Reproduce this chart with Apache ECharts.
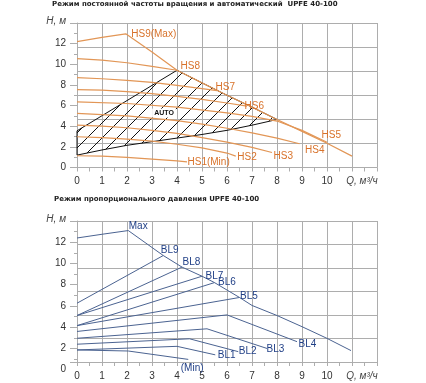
<!DOCTYPE html>
<html><head><meta charset="utf-8">
<script src="https://cdn.jsdelivr.net/npm/echarts@6/dist/echarts.min.js"></script>
<style>html,body{margin:0;padding:0;background:#fff}#c{width:426px;height:383px}</style>
</head><body><div id="c"></div>
<script>
// ---------- data ----------
const xLabelValues = [0,1,2,3,4,5,6,7,8,9,10];
const yLabelValues = [0,2,4,6,8,10,12];
const titleTop = 'Режим постоянной частоты вращения и автоматический  UPFE 40-100';
const titleBottom = 'Режим пропорционального давления UPFE 40-100';
const yName = 'H, м';
const xName = 'Q, м³/ч';

// top chart: constant speed curves [Q, H]
const hs9 = [[0,12.2],[1,12.6],[1.95,12.95],[3,11.2],[4,9.42],[5,8.2],[6,7.0],[7,5.85],[8,4.65],[9,3.5],[10,2.35],[11,1.1]];
const hs8 = [[0,10.55],[1,10.4],[2,10.15],[3,9.8],[4,9.42]];
const hs7 = [[0,8.7],[1,8.6],[2,8.45],[3,8.25],[4,7.95],[5,7.65],[5.6,7.45]];
const hs6 = [[0,7.55],[1,7.5],[2,7.35],[3,7.15],[4,6.9],[5,6.6],[6,6.25],[6.8,5.95]];
const hs5 = [[0,6.36],[2,6.2],[4,5.85],[6,5.3],[7,4.95],[8,4.5],[9,3.6],[10,2.45]];
const hs4 = [[0,5.24],[2,5.0],[4,4.55],[5,4.2],[6,3.8],[7,3.35],[8,2.85],[8.9,2.3]];
const hs3 = [[0,4.1],[1,4.0],[2,3.85],[3,3.6],[4,3.3],[5,2.9],[6,2.45],[7,1.95],[7.8,1.45]];
const hs2 = [[0,2.98],[1,2.9],[2,2.75],[3,2.55],[4,2.25],[5,1.9],[6,1.4],[6.35,1.1]];
const hs1 = [[0,1.14],[1,1.1],[2,0.98],[3,0.82],[4,0.64],[4.4,0.55]];
const autoUpper = [[0,3.55],[4,9.42]];
const autoLower = [[8,4.65],[7,4.1],[6,3.6],[5,3.2],[4,2.85],[3,2.5],[2,2.15],[1,1.7],[0,1.2]];
const autoText = 'AUTO';
const autoTextAt = [3.48,5.27];

// bottom chart: proportional pressure curves [Q, H]
const blMax = [[0,12.4],[1,12.75],[2.05,13.1],[3.45,10.75],[4.2,9.66],[5,8.8],[5.5,8.2],[6,7.5],[6.5,6.8],[7,6.05],[8,5.1],[9,4.05],[10,2.95],[10.96,1.8]];
const bl9 = [[0,6.26],[3.45,10.75]];
const bl8 = [[0,5.1],[4.2,9.66]];
const bl7 = [[0,5.1],[5.0,8.8]];
const bl6 = [[0,4.15],[5.5,8.2]];
const bl5 = [[0,4.15],[6.5,6.8]];
const bl4 = [[0,3.6],[6,5.16],[8.8,2.64]];
const bl3 = [[0,2.96],[5.2,3.85],[7.6,2.0]];
const bl2 = [[0,2.4],[4.5,2.91],[6.45,1.7]];
const bl1 = [[0,1.86],[4.0,2.2],[5.53,1.4]];
const blMin = [[0,1.86],[2.05,1.76],[4.45,0.97]];

// ---------- styling ----------
const FONT = "'Liberation Sans',Arial,sans-serif";
const TFONT = "'DejaVu Sans',Verdana,sans-serif";
const GRID_C = '#adadad';
const OR_LINE = '#e29656', OR_TXT = '#d8722a';
const BL_LINE = '#4b6391', BL_TXT = '#203f86';

function hatchPattern(){
  const c = document.createElement('canvas');
  const s = 15; c.width = s; c.height = s;
  const g = c.getContext('2d');
  g.strokeStyle = '#111'; g.lineWidth = 1;
  g.beginPath();
  g.moveTo(-1, s+1); g.lineTo(s+1, -1);
  g.moveTo(-1, 1); g.lineTo(1, -1);
  g.moveTo(s-1, s+1); g.lineTo(s+1, s-1);
  g.stroke();
  return c;
}
const hatch = hatchPattern();

// grid 0 (top): x 0,1 ; y 0,1,2      grid 1 (bottom data): x 2,3 ; y 3,4,5     grid 2 (bottom labels): x 4 ; y 6
function line(name, data, gi, color, width, txtColor, labelIdx, offset){
  const d = data.map((p,i)=> i===labelIdx ? {value:p, label:{show:true, formatter:name, position:'right', distance:3, offset:offset, color:txtColor, fontFamily:FONT, fontSize:10}} : p);
  return {type:'line', name, data:d, xAxisIndex:gi*2, yAxisIndex:gi*3, symbol:'circle', symbolSize:1, showSymbol:true, showAllSymbol:true,
          itemStyle:{color:'rgba(0,0,0,0)'}, lineStyle:{color, width}, label:{show:false}, z:3, silent:true, animation:false};
}

function xAxesFor(gi){
  return [
    {gridIndex:gi, type:'value', position:'bottom', min:0, max:12, interval:1, axisLine:{show:false}, axisTick:{show:false}, axisLabel:{show:false},
     splitLine:{show:true, lineStyle:{color:GRID_C, width:1}}},
    {gridIndex:gi, type:'value', position:'bottom', min:0, max:12,
     axisLine:{show:true, onZero:false, lineStyle:{color:GRID_C}},
     axisTick:{show:true, customValues:[0,0.5,1,1.5,2,2.5,3,3.5,4,4.5,5,5.5,6,6.5,7,7.5,8,8.5,9,9.5,10,10.5,11,11.5,12], length:4, lineStyle:{color:GRID_C}},
     axisLabel:{show:true, customValues:xLabelValues.concat([11.4]), margin:9, color:'#333', fontFamily:FONT, fontSize:10,
       formatter:v=> v>10 ? '{i|'+xName+'}' : String(v), rich:{i:{fontStyle:'italic', color:'#444', fontFamily:FONT, fontSize:10}}},
     splitLine:{show:false}}
  ];
}
function yLabelAxis(gi, minV, showLine, tickVals){
  return {gridIndex:gi, type:'value', position:'left', min:minV, max:14,
     axisLine:{show:showLine, onZero:false, lineStyle:{color:GRID_C}},
     axisTick:{show:true, customValues:tickVals, length:7, lineStyle:{color:GRID_C}},
     axisLabel:{show:true, customValues:yLabelValues.concat([14]), margin:11, color:'#333', fontFamily:FONT, fontSize:10,
       formatter:v=> v===14 ? '{i|'+yName+'}' : String(v), rich:{i:{fontStyle:'italic', color:'#444', fontFamily:FONT, fontSize:10, padding:[0,0,4,0]}}},
     splitLine:{show:false}};
}
function ySplitAxis(gi){
  return {gridIndex:gi, type:'value', position:'left', min:0, max:6, interval:1, axisLine:{show:false}, axisTick:{show:false}, axisLabel:{show:false},
     splitLine:{show:true, lineStyle:{color:GRID_C, width:1}}};
}
function yMinorAxis(gi, minV, vals){
  return {gridIndex:gi, type:'value', position:'left', min:minV, max:14, axisLine:{show:false},
     axisTick:{show:true, customValues:vals, length:3, lineStyle:{color:GRID_C}}, axisLabel:{show:false}, splitLine:{show:false}};
}

const autoPoly = autoUpper.concat(hs9.filter(p=>p[0]>4 && p[0]<8), autoLower);

const series = [
  {type:'custom', xAxisIndex:0, yAxisIndex:0, coordinateSystem:'cartesian2d', data:[0], silent:true, z:2, animation:false,
   renderItem:(params, api)=>{
     const pts = autoPoly.map(p=>api.coord(p));
     const c = api.coord(autoTextAt);
     return {type:'group', children:[
       {type:'polygon', shape:{points:pts}, style:{fill:{image:hatch, repeat:'repeat'}, stroke:'#111', lineWidth:1}},
       {type:'text', x:c[0], y:c[1], z2:10, style:{text:autoText, fill:'#111', font:'bold 7px '+FONT, align:'center', verticalAlign:'middle', backgroundColor:'#fff', padding:[1,2]}}
     ]};
   }},
  line('HS9(Max)', hs9, 0, OR_LINE, 1.2, OR_TXT, 2, [2,0]),
  line('HS8', hs8, 0, OR_LINE, 1.2, OR_TXT, 4, [0,-4]),
  line('HS7', hs7, 0, OR_LINE, 1.2, OR_TXT, 6, [-5,-3]),
  line('HS6', hs6, 0, OR_LINE, 1.2, OR_TXT, 7, [-6,0]),
  line('HS5', hs5, 0, OR_LINE, 1.2, OR_TXT, 7, [-9,-7]),
  line('HS4', hs4, 0, OR_LINE, 1.2, OR_TXT, 7, [2,6]),
  line('HS3', hs3, 0, OR_LINE, 1.2, OR_TXT, 8, [-2,4]),
  line('HS2', hs2, 0, OR_LINE, 1.2, OR_TXT, 7, [-2,1]),
  line('HS1(Min)', hs1, 0, OR_LINE, 1.2, OR_TXT, 5, [-3,0]),

  line('Max', blMax, 1, BL_LINE, 1, BL_TXT, 2, [-3,-4]),
  line('BL9', bl9, 1, BL_LINE, 1, BL_TXT, 1, [-6,-5]),
  line('BL8', bl8, 1, BL_LINE, 1, BL_TXT, 1, [-3,-5]),
  line('BL7', bl7, 1, BL_LINE, 1, BL_TXT, 1, [0,0]),
  line('BL6', bl6, 1, BL_LINE, 1, BL_TXT, 1, [0,0]),
  line('BL5', bl5, 1, BL_LINE, 1, BL_TXT, 1, [-3,-1]),
  line('BL4', bl4, 1, BL_LINE, 1, BL_TXT, 2, [-2,3]),
  line('BL3', bl3, 1, BL_LINE, 1, BL_TXT, 2, [-4,1]),
  line('BL2', bl2, 1, BL_LINE, 1, BL_TXT, 2, [-3,0]),
  line('BL1', bl1, 1, BL_LINE, 1, BL_TXT, 2, [-1,0]),
  line('(Min)', blMin, 1, BL_LINE, 1, BL_TXT, 2, [-11,9])
];

const option = {
  animation:false,
  backgroundColor:'#fff',
  title:[
    {text:titleTop, left:52, top:1, padding:0, textStyle:{fontFamily:TFONT, fontWeight:'bold', fontSize:7, color:'#222'}},
    {text:titleBottom, left:54, top:196, padding:0, textStyle:{fontFamily:TFONT, fontWeight:'bold', fontSize:7, color:'#222'}}
  ],
  grid:[
    {left:77, top:23, width:300, height:144.5},
    {left:77, top:221, width:300, height:141},
    {left:77, top:221, width:300, height:148.7}
  ],
  xAxis: xAxesFor(0).concat(xAxesFor(1), [{gridIndex:2, type:'value', min:0, max:12, show:false}]),
  yAxis: [
    yLabelAxis(0, 0, true, [0,2,4,6,8,10,12,14]), ySplitAxis(0), yMinorAxis(0, 0, [1,3,5,7,9,11,13]),
    {gridIndex:1, type:'value', position:'left', min:0.725, max:14, axisLine:{show:true, onZero:false, lineStyle:{color:GRID_C}},
     axisTick:{show:true, customValues:[0.725], length:7, lineStyle:{color:GRID_C}}, axisLabel:{show:false}, splitLine:{show:false}},
    ySplitAxis(1), yMinorAxis(1, 0.725, [1,3,5,7,9,11,13]),
    yLabelAxis(2, 0, false, [2,4,6,8,10,12,14])
  ],
  series
};
const chart = echarts.init(document.getElementById('c'), null, {renderer:'canvas'});
chart.setOption(option);
</script></body></html>
